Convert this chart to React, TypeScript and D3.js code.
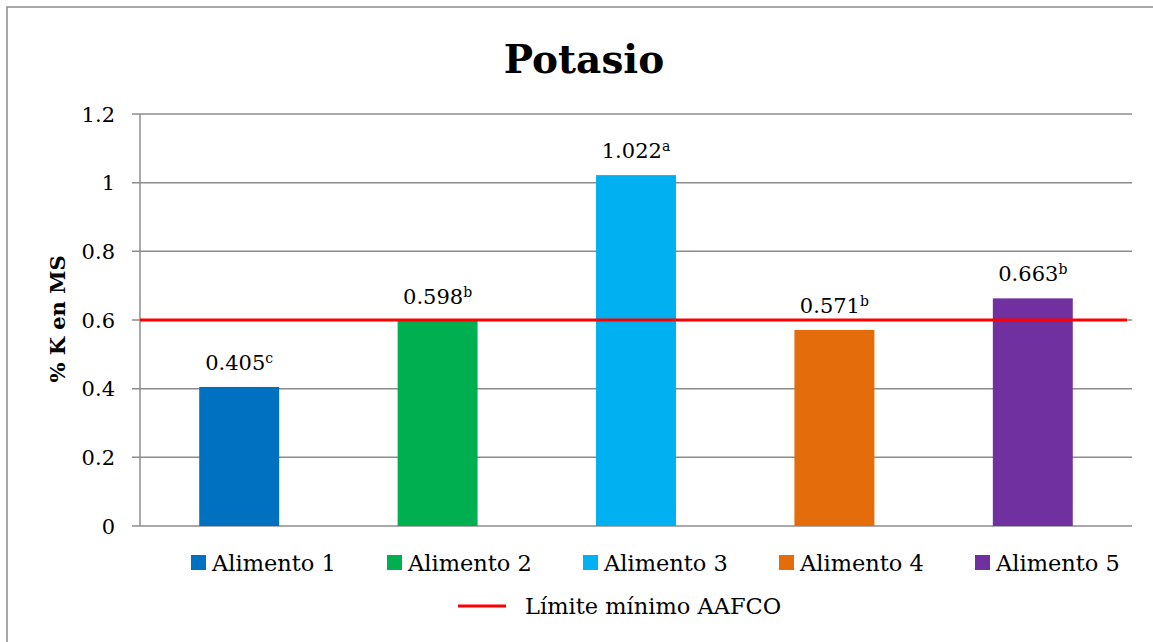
import React from "react";
import * as d3 from "d3";

// Potassium content per food, % K on dry matter, with significance letters
const categories = ["Alimento 1", "Alimento 2", "Alimento 3", "Alimento 4", "Alimento 5"];
const values = [0.405, 0.598, 1.022, 0.571, 0.663];
const letters = ["c", "b", "a", "b", "b"];
const colors = ["#0070C0", "#00B050", "#00B0F0", "#E46C0A", "#7030A0"];
const yTicks = [0, 0.2, 0.4, 0.6, 0.8, 1, 1.2];
const aafcoMin = 0.6;
const aafcoLabel = "Límite mínimo AAFCO";

const W = 1153;
const H = 642;
const plot = { left: 140, right: 1132, top: 114, bottom: 526 };
const FONT = "'DejaVu Serif', serif";

export default function App() {
  const x = d3
    .scaleBand<string>()
    .domain(categories)
    .range([plot.left, plot.right])
    .paddingInner(0.597)
    .paddingOuter(0.2985);
  const y = d3.scaleLinear().domain([0, 1.2]).range([plot.bottom, plot.top]);

  const legendX = d3.scaleBand<string>().domain(categories).range([191, 1171]);

  return (
    <svg
      width={W}
      height={H}
      style={{ position: "absolute", left: 0, top: 0, background: "#fff" }}
      fontFamily={FONT}
    >
      <rect x={7} y={7} width={W + 20} height={H + 20} fill="#fff" stroke="#8a8a8a" strokeWidth={1.5} />

      <text x={584} y={73} textAnchor="middle" fontSize={39} fontWeight="bold" fill="#000">
        Potasio
      </text>

      {/* gridlines and y ticks */}
      {yTicks.map((t) => (
        <g key={t}>
          <line x1={132} x2={plot.right} y1={y(t)} y2={y(t)} stroke="#8c8c8c" strokeWidth={1.5} />
          <text x={115} y={y(t)} dy="0.36em" textAnchor="end" fontSize={21} fill="#000">
            {d3.format("")(t)}
          </text>
        </g>
      ))}
      <line x1={plot.left} x2={plot.left} y1={plot.top} y2={plot.bottom} stroke="#8c8c8c" strokeWidth={1.5} />

      <text
        transform={`translate(65,${(plot.top + plot.bottom) / 2 - 1}) rotate(-90)`}
        textAnchor="middle"
        fontSize={21}
        fontWeight="bold"
        fill="#000"
      >
        % K en MS
      </text>

      {/* bars */}
      {categories.map((c, i) => (
        <rect
          key={c}
          x={x(c)}
          y={y(values[i])}
          width={x.bandwidth()}
          height={y(0) - y(values[i])}
          fill={colors[i]}
        />
      ))}

      {/* value labels */}
      {categories.map((c, i) => (
        <text
          key={c}
          x={(x(c) as number) + x.bandwidth() / 2}
          y={y(values[i]) - 17}
          textAnchor="middle"
          fontSize={21}
          fill="#000"
        >
          {values[i].toFixed(3)}
          <tspan fontSize={14} dy={-7}>
            {letters[i]}
          </tspan>
        </text>
      ))}

      {/* AAFCO minimum */}
      <line x1={plot.left} x2={1127} y1={y(aafcoMin)} y2={y(aafcoMin)} stroke="#FF0000" strokeWidth={3} />

      {/* legend */}
      {categories.map((c, i) => (
        <g key={c} transform={`translate(${legendX(c)},555)`}>
          <rect x={0} y={0} width={15} height={15} fill={colors[i]} />
          <text x={21} y={16} fontSize={22.5} fill="#000">
            {c}
          </text>
        </g>
      ))}
      <line x1={458} x2={506} y1={606} y2={606} stroke="#FF0000" strokeWidth={3} />
      <text x={525} y={614} fontSize={22.5} fill="#000">
        {aafcoLabel}
      </text>
    </svg>
  );
}
